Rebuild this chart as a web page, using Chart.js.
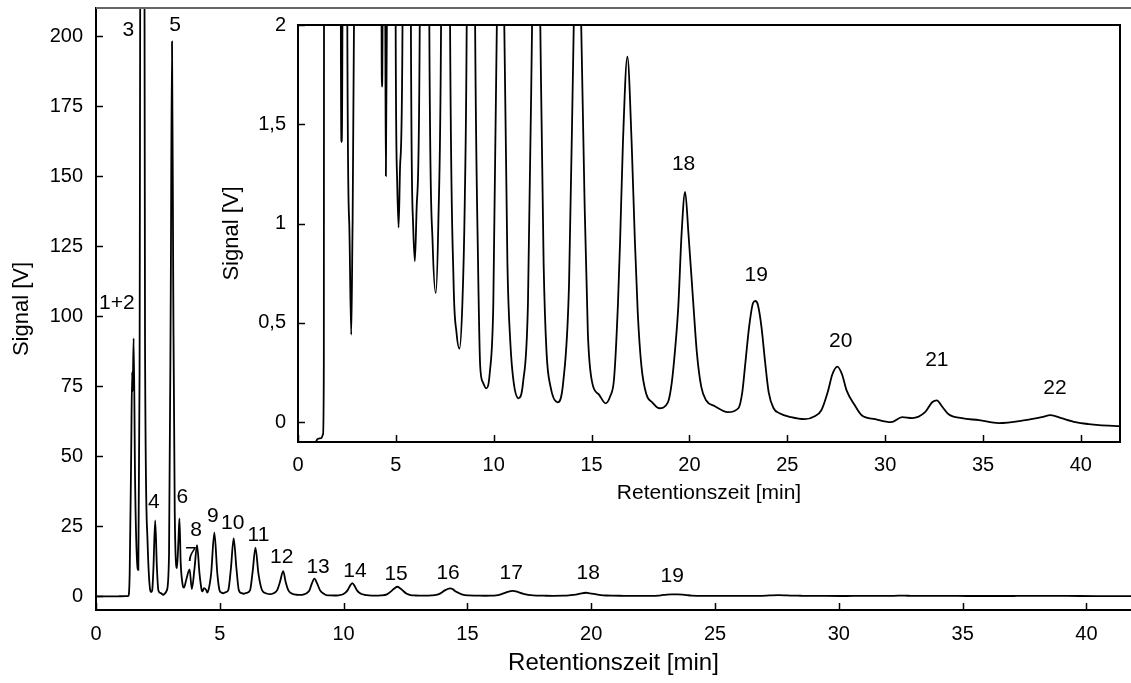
<!DOCTYPE html>
<html>
<head>
<meta charset="utf-8">
<script src="https://cdn.jsdelivr.net/npm/chart.js@4.4.0/dist/chart.umd.min.js"></script>
<style>
  html, body { margin: 0; padding: 0; background: #fff; }
  #wrap { position: relative; width: 1131px; height: 683px; }
  #mainChart { position: absolute; left: 0; top: 0; }
  #insetChart { position: absolute; left: 200px; top: 0; }
</style>
</head>
<body>
<div id="wrap">
  <canvas id="mainChart" width="1131" height="683"></canvas>
  <canvas id="insetChart" width="931" height="520"></canvas>
</div>
<script>
// chromatogram: retention time [min] and signal [V]
const timeMin = [
  0, 0.9, 1.0, 1.2, 1.28, 1.32,
  1.36, 1.42, 1.46, 1.48, 1.52, 1.58, 1.66, 1.71,
  1.76, 1.87, 1.98, 2.08, 2.19, 2.225, 2.27,
  2.32, 2.39, 2.46, 2.52, 2.62, 2.72, 2.79, 2.86,
  2.95, 3.02, 3.07, 3.12, 3.18, 3.27,
  3.33, 3.37, 3.42, 3.5, 3.55,
  3.65, 3.78, 3.87,
  3.98, 4.08, 4.18, 4.27, 4.29, 4.31, 4.36, 4.46, 4.49, 4.54,
  4.65, 4.78, 4.9, 4.99, 5.07, 5.14, 5.22, 5.34,
  5.45, 5.56, 5.67, 5.77, 5.88, 5.97, 6.07, 6.22,
  6.33, 6.44, 6.56, 6.71, 6.88, 7.04, 7.17, 7.31,
  7.43, 7.56, 7.66, 7.77, 7.95, 8.1, 8.25, 8.4, 8.52, 8.62,
  8.72, 8.82, 8.93, 9.05, 9.2, 9.31, 9.45, 9.62, 9.8, 9.98, 10.16,
  10.25, 10.35, 10.45, 10.54, 10.7, 10.85, 11.02, 11.27, 11.5, 11.75, 11.96,
  12.06, 12.17, 12.28, 12.38, 12.55, 12.7, 12.9, 13.27, 13.55, 13.85, 14.09,
  14.2, 14.3, 14.4, 14.47, 14.64, 14.81, 15.03, 15.37, 15.72,
  15.95, 16.15, 16.35, 16.46, 16.6, 16.83, 17.05, 17.21, 17.36, 17.55, 17.8, 18.1, 18.45,
  18.9, 19.1, 19.28, 19.43, 19.6, 19.78, 19.95, 20.21, 20.38, 20.6, 20.85, 21.3, 21.96,
  22.5, 22.7, 22.86, 23.05, 23.25, 23.37, 23.5, 23.68, 23.87, 24.05, 24.3, 24.6, 25.2, 25.89,
  26.4, 26.74, 27.09, 27.3, 27.56, 27.8, 28.03, 28.45, 28.8, 29.5, 30.3,
  30.87, 31.38, 32.04, 32.4, 32.64, 32.9, 33.24, 33.92, 34.8, 35.8,
  37.17, 38.0, 38.45, 39.0, 39.73, 40.4, 40.93, 42.0
];
const signalV = [
  -0.12, -0.1, -0.085, -0.08, -0.06, 0.3,
  8, 50, 80, 73, 92, 40, 12, 9.3,
  80, 700, 90, 20, 2.0, 1.41, 2.0,
  10, 27, 10, 2.0, 1.0, 0.44, 1.0, 2.0,
  15, 110, 198, 110, 30, 10,
  20, 27.7, 12, 4, 3,
  6, 9.5, 2.5,
  10, 18.2, 8, 2.0, 1.69, 1.77, 2.8, 2.0, 1.24, 2.0,
  8, 22.6, 8, 2.0, 1.2, 0.98, 1.3, 2.0,
  10, 20.6, 10, 2.0, 1.0, 0.81, 1.1, 2.0,
  9, 17.3, 8, 2.0, 0.9, 0.65, 1.0, 2.0,
  5, 8.9, 5, 2.0, 0.7, 0.45, 0.37, 0.6, 1.1, 2.0,
  4.5, 6.2, 4.5, 2.0, 0.8, 0.28, 0.2, 0.17, 0.25, 0.6, 2.0,
  3.5, 4.6, 3.5, 2.0, 0.8, 0.4, 0.2, 0.12, 0.2, 0.6, 2.0,
  2.8, 3.3, 2.8, 2.0, 0.8, 0.35, 0.18, 0.10, 0.2, 0.7, 2.0,
  2.5, 2.7, 2.5, 2.0, 1.12, 0.45, 0.2, 0.14, 0.095,
  0.13, 0.22, 0.6, 0.92, 1.4, 1.84, 1.4, 0.92, 0.55, 0.28, 0.14, 0.1, 0.07,
  0.1, 0.2, 0.38, 0.58, 0.95, 1.16, 0.95, 0.58, 0.35, 0.18, 0.11, 0.08, 0.05,
  0.07, 0.15, 0.3, 0.48, 0.6, 0.61, 0.59, 0.48, 0.3, 0.15, 0.07, 0.045, 0.025, 0.015,
  0.03, 0.06, 0.16, 0.24, 0.28, 0.24, 0.16, 0.085, 0.035, 0.015, 0.0,
  0.025, 0.02, 0.05, 0.1, 0.11, 0.08, 0.04, 0.02, 0.01, -0.005,
  0.01, 0.025, 0.035, 0.02, 0.0, -0.01, -0.015, -0.02
];

// tick values
const xTicks = [0, 5, 10, 15, 20, 25, 30, 35, 40];
const mainYTicks = [0, 25, 50, 75, 100, 125, 150, 175, 200];
const insetYTicks = [0, 0.5, 1, 1.5, 2];

// peak numbers, placed in data units
const mainLabels = ['1+2', '3', '5', '4', '6', '7', '8', '9', '10', '11', '12', '13', '14', '15', '16', '17', '18', '19'];
const mainLabelT = [0.84, 1.31, 3.19, 2.34, 3.49, 3.83, 4.04, 4.72, 5.52, 6.56, 7.5, 8.97, 10.46, 12.12, 14.22, 16.77, 19.88, 23.27];
const mainLabelV = [104.6, 202, 204, 33.6, 35.4, 14.6, 23.6, 28.6, 26.1, 21.8, 14.0, 10.4, 8.9, 7.9, 8.2, 8.2, 8.2, 7.1];
const insetLabels = ['18', '19', '20', '21', '22'];
const insetLabelT = [19.7, 23.41, 27.73, 32.64, 38.68];
const insetLabelV = [1.30, 0.74, 0.41, 0.31, 0.17];

const FONT = "'Liberation Sans', Arial, sans-serif";
const points = timeMin.map((t, i) => ({ x: t, y: signalV[i] }));

// ticks inward, frame and peak numbers
const frame = {
  id: 'frame',
  afterDraw(chart, args, opts) {
    const { ctx, chartArea: a, scales } = chart;
    ctx.save();
    ctx.strokeStyle = '#000';
    ctx.lineWidth = 1.5;
    scales.x.ticks.forEach(t => {
      const px = Math.round(scales.x.getPixelForValue(t.value)) + 0.5;
      ctx.beginPath(); ctx.moveTo(px, a.bottom); ctx.lineTo(px, a.bottom - 7); ctx.stroke();
    });
    scales.y.ticks.forEach(t => {
      const py = Math.round(scales.y.getPixelForValue(t.value)) + 0.5;
      ctx.beginPath(); ctx.moveTo(a.left, py); ctx.lineTo(a.left + 7, py); ctx.stroke();
    });
    if (opts.box) {
      ctx.lineWidth = 2;
      ctx.strokeRect(a.left, a.top, a.right - a.left, a.bottom - a.top);
    } else {
      ctx.strokeStyle = '#666';
      ctx.lineWidth = 2;
      ctx.beginPath(); ctx.moveTo(a.left, a.top); ctx.lineTo(a.right, a.top); ctx.stroke();
    }
    ctx.fillStyle = '#000';
    ctx.font = '21px ' + FONT;
    ctx.textAlign = 'center';
    ctx.textBaseline = 'middle';
    opts.labels.forEach((s, i) => {
      ctx.fillText(s, scales.x.getPixelForValue(opts.t[i]), scales.y.getPixelForValue(opts.v[i]));
    });
    ctx.restore();
  }
};

function noEdgePadding(s) {
  s.paddingTop = 0; s.paddingBottom = 0; s.paddingLeft = 0; s.paddingRight = 0;
}

function makeChart(id, cfg) {
  return new Chart(document.getElementById(id), {
    type: 'line',
    data: {
      datasets: [{
        data: points,
        borderColor: '#000',
        borderWidth: 1.8,
        pointRadius: 0,
        cubicInterpolationMode: 'monotone',
        fill: false
      }]
    },
    options: {
      responsive: false,
      animation: false,
      events: [],
      layout: { padding: cfg.padding },
      plugins: {
        legend: { display: false },
        tooltip: { enabled: false },
        frame: { box: cfg.box, labels: cfg.labels, t: cfg.labelT, v: cfg.labelV }
      },
      scales: {
        x: {
          type: 'linear',
          min: 0,
          max: cfg.xMax,
          afterBuildTicks: s => { s.ticks = xTicks.map(v => ({ value: v })); },
          afterFit: s => { s.height = cfg.xHeight; noEdgePadding(s); },
          grid: { display: false, drawTicks: false },
          border: { display: true, color: '#000', width: 2 },
          ticks: { color: '#000', font: { family: FONT, size: 20 }, padding: cfg.xPad, maxRotation: 0 },
          title: { display: true, text: 'Retentionszeit [min]', color: '#000', font: { family: FONT, size: cfg.xTitleSize }, padding: cfg.xTitlePad }
        },
        y: {
          min: cfg.yMin,
          max: cfg.yMax,
          afterBuildTicks: s => { s.ticks = cfg.yTicks.map(v => ({ value: v })); },
          afterFit: s => { s.width = cfg.yWidth; noEdgePadding(s); },
          grid: { display: false, drawTicks: false },
          border: { display: true, color: '#000', width: 2 },
          ticks: {
            color: '#000', font: { family: FONT, size: 20 }, padding: cfg.yPad,
            callback: v => String(v).replace('.', ',')
          },
          title: { display: true, text: 'Signal [V]', color: '#000', font: { family: FONT, size: 22 }, padding: cfg.yTitlePad }
        }
      }
    },
    plugins: [frame]
  });
}

makeChart('mainChart', {
  padding: { top: 8, right: 0, bottom: 0, left: 0 },
  xMax: 41.8, xHeight: 73, xPad: 12, xTitleSize: 24, xTitlePad: { top: 4, bottom: 5 },
  yMin: -5, yMax: 210, yTicks: mainYTicks, yWidth: 96, yPad: 13, yTitlePad: { top: 9, bottom: 4 },
  box: false, labels: mainLabels, labelT: mainLabelT, labelV: mainLabelV
});

makeChart('insetChart', {
  padding: { top: 25, right: 11, bottom: 0, left: 0 },
  xMax: 42, xHeight: 78, xPad: 11, xTitleSize: 21, xTitlePad: { top: 4, bottom: 14 },
  yMin: -0.1, yMax: 2, yTicks: insetYTicks, yWidth: 98, yPad: 12, yTitlePad: { top: 19, bottom: 4 },
  box: true, labels: insetLabels, labelT: insetLabelT, labelV: insetLabelV
});
</script>
</body>
</html>
